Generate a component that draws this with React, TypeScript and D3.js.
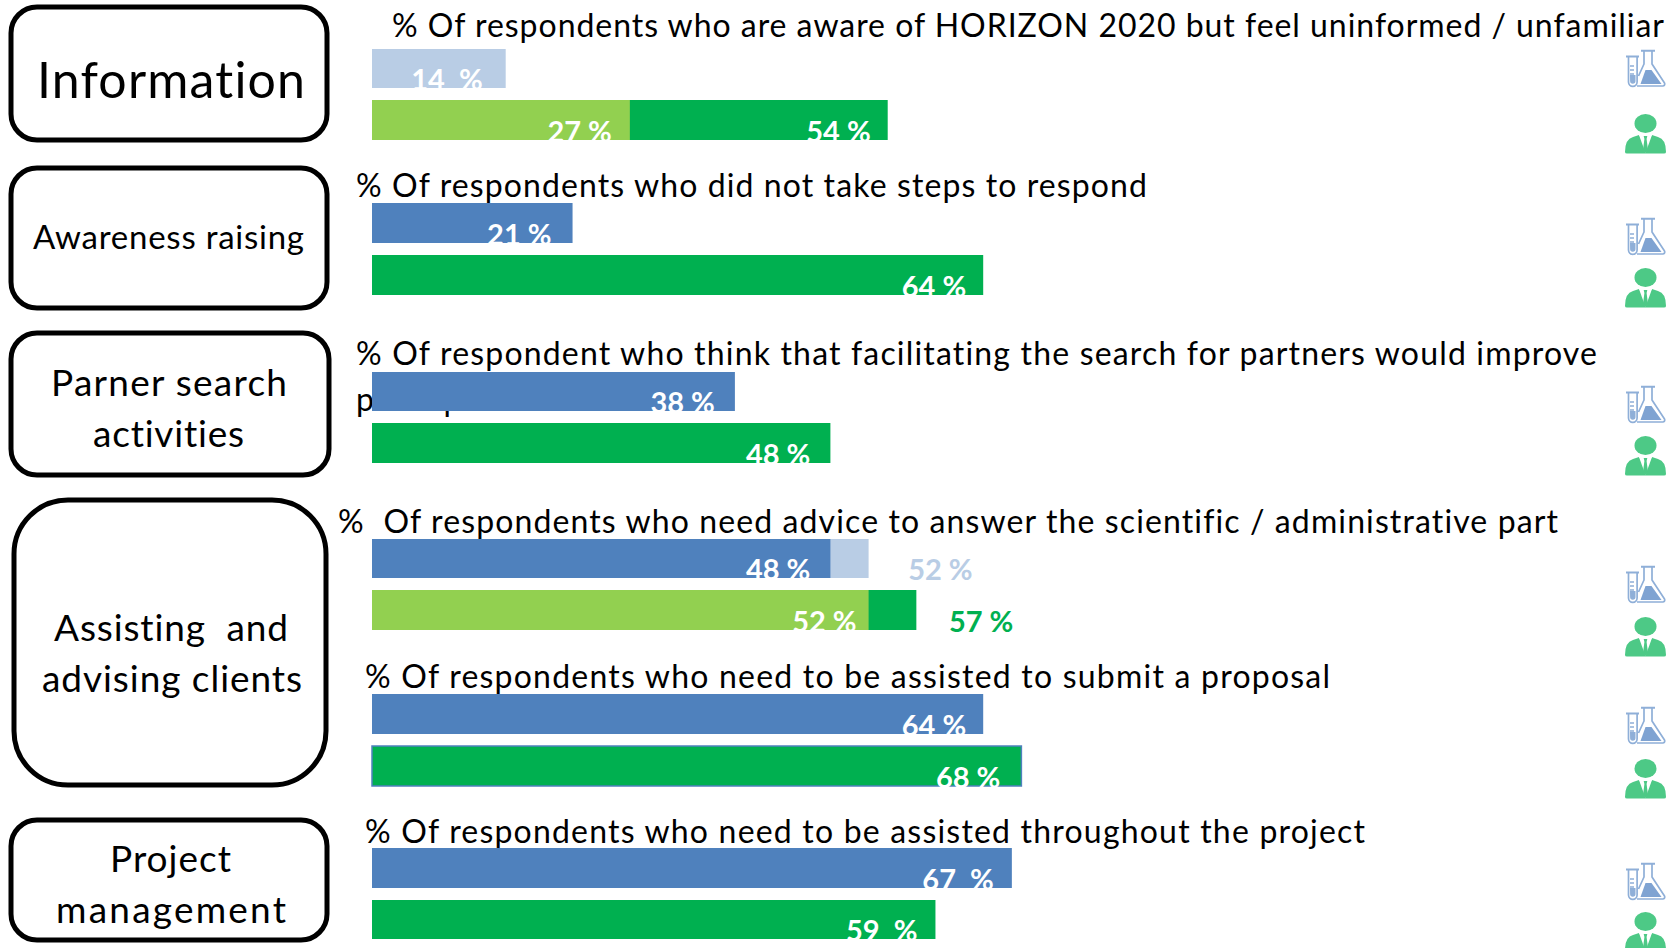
import React from "react";
import * as d3 from "d3";

const FONT = "Lato, Carlito, sans-serif";
const BLUE = "#4F81BD";
const LIGHT_BLUE = "#B9CDE5";
const GREEN = "#00B050";
const LIGHT_GREEN = "#92D050";

// Percentages per survey question: researchers (flask) and companies (person)
const awareUninformedResearch = [14];
const awareUninformedCompanies = [54, 27];
const noStepsResearch = [21];
const noStepsCompanies = [64];
const partnerSearchResearch = [38];
const partnerSearchCompanies = [48];
const adviceResearch = [52, 48];
const adviceCompanies = [57, 52];
const submitResearch = [64];
const submitCompanies = [68];
const throughoutResearch = [67];
const throughoutCompanies = [59];

const questionTitles = [
  "% Of respondents who are aware of HORIZON 2020 but feel uninformed / unfamiliar",
  "% Of respondents who did not take steps to respond",
  "% Of respondent who think that facilitating the search for partners would improve",
  "%  Of respondents who need advice to answer the scientific / administrative part",
  "% Of respondents who need to be assisted to submit a proposal",
  "% Of respondents who need to be assisted throughout the project",
];

const x = d3.scaleLinear().domain([0, 100]).range([372, 1327]);

type Seg = { value: number; fill: string; label?: string; color?: string; outsideDx?: number; labelDx?: number };
type Bar = { top: number; bottom: number; segs: Seg[]; outline?: string };

const bars: Bar[] = [
  { top: 49, bottom: 88, segs: [{ value: awareUninformedResearch[0], fill: LIGHT_BLUE, label: "14  %", labelDx: -3 }] },
  { top: 100, bottom: 140, segs: [
    { value: awareUninformedCompanies[0], fill: GREEN, label: "54 %", labelDx: 3 },
    { value: awareUninformedCompanies[1], fill: LIGHT_GREEN, label: "27 %", labelDx: 2 },
  ] },
  { top: 203, bottom: 243, segs: [{ value: noStepsResearch[0], fill: BLUE, label: "21 %", labelDx: -1 }] },
  { top: 255, bottom: 295, segs: [{ value: noStepsCompanies[0], fill: GREEN, label: "64 %", labelDx: 3 }] },
  { top: 372, bottom: 411, segs: [{ value: partnerSearchResearch[0], fill: BLUE, label: "38 %" }] },
  { top: 423, bottom: 463, segs: [{ value: partnerSearchCompanies[0], fill: GREEN, label: "48 %" }] },
  { top: 539, bottom: 578, segs: [
    { value: adviceResearch[0], fill: LIGHT_BLUE, label: "52 %", color: LIGHT_BLUE, outsideDx: 104 },
    { value: adviceResearch[1], fill: BLUE, label: "48 %" },
  ] },
  { top: 590, bottom: 630, segs: [
    { value: adviceCompanies[0], fill: GREEN, label: "57 %", color: GREEN, outsideDx: 97 },
    { value: adviceCompanies[1], fill: LIGHT_GREEN, label: "52 %", labelDx: 8 },
  ] },
  { top: 694, bottom: 734, segs: [{ value: submitResearch[0], fill: BLUE, label: "64 %", labelDx: 3 }] },
  { top: 746, bottom: 786, outline: BLUE, segs: [{ value: submitCompanies[0], fill: GREEN, label: "68 %", labelDx: -1 }] },
  { top: 848, bottom: 888, segs: [{ value: throughoutResearch[0], fill: BLUE, label: "67  %", labelDx: 2 }] },
  { top: 900, bottom: 939, segs: [{ value: throughoutCompanies[0], fill: GREEN, label: "59  %", labelDx: 2 }] },
];

const titleLayout = [
  { x: 392, end: 1664, y: 37 },
  { x: 356, end: 1147, y: 197 },
  { x: 356, end: 1597, y: 365 },
  { x: 338, end: 1558, y: 533 },
  { x: 365, end: 1330, y: 688 },
  { x: 365, end: 1365, y: 843 },
];

const boxes = [
  { x: 11, y: 7, w: 316, h: 133, r: 26, lines: [{ t: "Information", x0: 37, x1: 305, y: 98, size: 50 }] },
  { x: 11, y: 168, w: 316, h: 140, r: 26, lines: [{ t: "Awareness raising", x0: 33, x1: 304, y: 249, size: 33 }] },
  { x: 11, y: 333, w: 318, h: 142, r: 26, lines: [
    { t: "Parner search", x0: 51, x1: 287, y: 396, size: 37 },
    { t: "activities", x0: 93, x1: 244, y: 447, size: 37 },
  ] },
  { x: 14, y: 500, w: 312, h: 285, r: 54, lines: [
    { t: "Assisting  and", x0: 54, x1: 288, y: 641, size: 37 },
    { t: "advising clients", x0: 42, x1: 302, y: 692, size: 37 },
  ] },
  { x: 11, y: 820, w: 316, h: 120, r: 26, lines: [
    { t: "Project", x0: 110, x1: 231, y: 872, size: 37 },
    { t: "management", x0: 56, x1: 286, y: 923, size: 37 },
  ] },
];

const flaskCentres = [68, 236, 404, 584, 725, 881];
const personCentres = [134, 288, 456, 637, 779, 932];

function Flask({ cy }: { cy: number }) {
  const c = "#8FAFD8";
  return (
    <g transform={`translate(1626,${cy - 19})`}>
      <g fill="none" stroke={c} strokeWidth={1.7} strokeLinejoin="round">
        <path d="M2.5,8 V33 a4.3,4.3 0 0 0 8.6,0 V8" />
        <path d="M18,2 V15 L12.5,27" />
        <path d="M26,2 V15 L38.5,34 a2,2 0 0 1 -1.7,3 H11" />
      </g>
      <path d="M0,6.5 H13 V8.5 H0 Z M15,0.8 H29 V2.8 H15 Z" fill={c} />
      <path d="M14.5,35 L19.5,21 H25.5 L35.5,35 Z" fill="#7FA3D2" />
      <path d="M4,17 H8 M4,21 H8 M4,25 H8" stroke={c} strokeWidth={1.5} />
      <path d="M4,26 H9.5 V32 a2.7,2.7 0 0 1 -5.4,0 Z" fill={c} />
    </g>
  );
}

function Person({ cy }: { cy: number }) {
  const c = "#4DC986";
  return (
    <g transform={`translate(1625,${cy - 20})`}>
      <ellipse cx={20.5} cy={9.5} rx={11} ry={9.5} fill={c} />
      <path d="M0,38 Q0,25 8,23 L14,21 L20.5,31 L27,21 L33,23 Q41,25 41,38 Q41,39.5 39,39.5 H2 Q0,39.5 0,38 Z" fill={c} />
      <path d="M14,21 L27,21 L20.5,39 Z" fill="#ffffff" />
      <path d="M18.7,22 H22.3 L21.6,25 L23,36 L20.5,39 L18,36 L19.4,25 Z" fill={c} />
    </g>
  );
}

export default function App() {
  const noLig: React.CSSProperties = { whiteSpace: "pre", fontVariantLigatures: "none" };
  return (
    <svg
      width={1671}
      height={948}
      viewBox="0 0 1671 948"
      style={{ position: "absolute", left: 0, top: 0, background: "#fff", display: "block" }}
      fontFamily={FONT}
    >
      {boxes.map((b, i) => (
        <g key={i}>
          <rect x={b.x} y={b.y} width={b.w} height={b.h} rx={b.r} ry={b.r} fill="#fff" stroke="#000" strokeWidth={5} />
          {b.lines.map((l, j) => (
            <text key={j} x={l.x0} y={l.y} fontSize={l.size} textLength={l.x1 - l.x0} fill="#000" style={noLig}>
              {l.t}
            </text>
          ))}
        </g>
      ))}

      {questionTitles.map((t, i) => (
        <text key={i} x={titleLayout[i].x} y={titleLayout[i].y} fontSize={32} textLength={titleLayout[i].end - titleLayout[i].x} fill="#000" style={noLig}>
          {t}
        </text>
      ))}
      {/* Wrapped second line of the partner-search question, running behind its bar */}
      <text x={356} y={411} fontSize={32} fill="#000" style={noLig}>participation</text>

      {bars.map((b, i) => (
        <g key={i}>
          {b.segs.map((s, j) => (
            <rect key={j} x={x(0)} y={b.top} width={x(s.value) - x(0)} height={b.bottom - b.top} fill={s.fill}
              stroke={b.outline ?? "none"} strokeWidth={b.outline ? 1.5 : 0} />
          ))}
          {b.segs.map((s, j) => (
            <text key={j} x={(s.outsideDx ? x(s.value) + s.outsideDx : x(s.value) - 20) + (s.labelDx ?? 0)} y={b.bottom + 2}
              textAnchor="end" fontSize={29} fontWeight={700} fill={s.color ?? "#fff"} style={noLig}>
              {s.label}
            </text>
          ))}
        </g>
      ))}

      {flaskCentres.map((cy, i) => <Flask key={i} cy={cy} />)}
      {personCentres.map((cy, i) => <Person key={i} cy={cy} />)}
    </svg>
  );
}
